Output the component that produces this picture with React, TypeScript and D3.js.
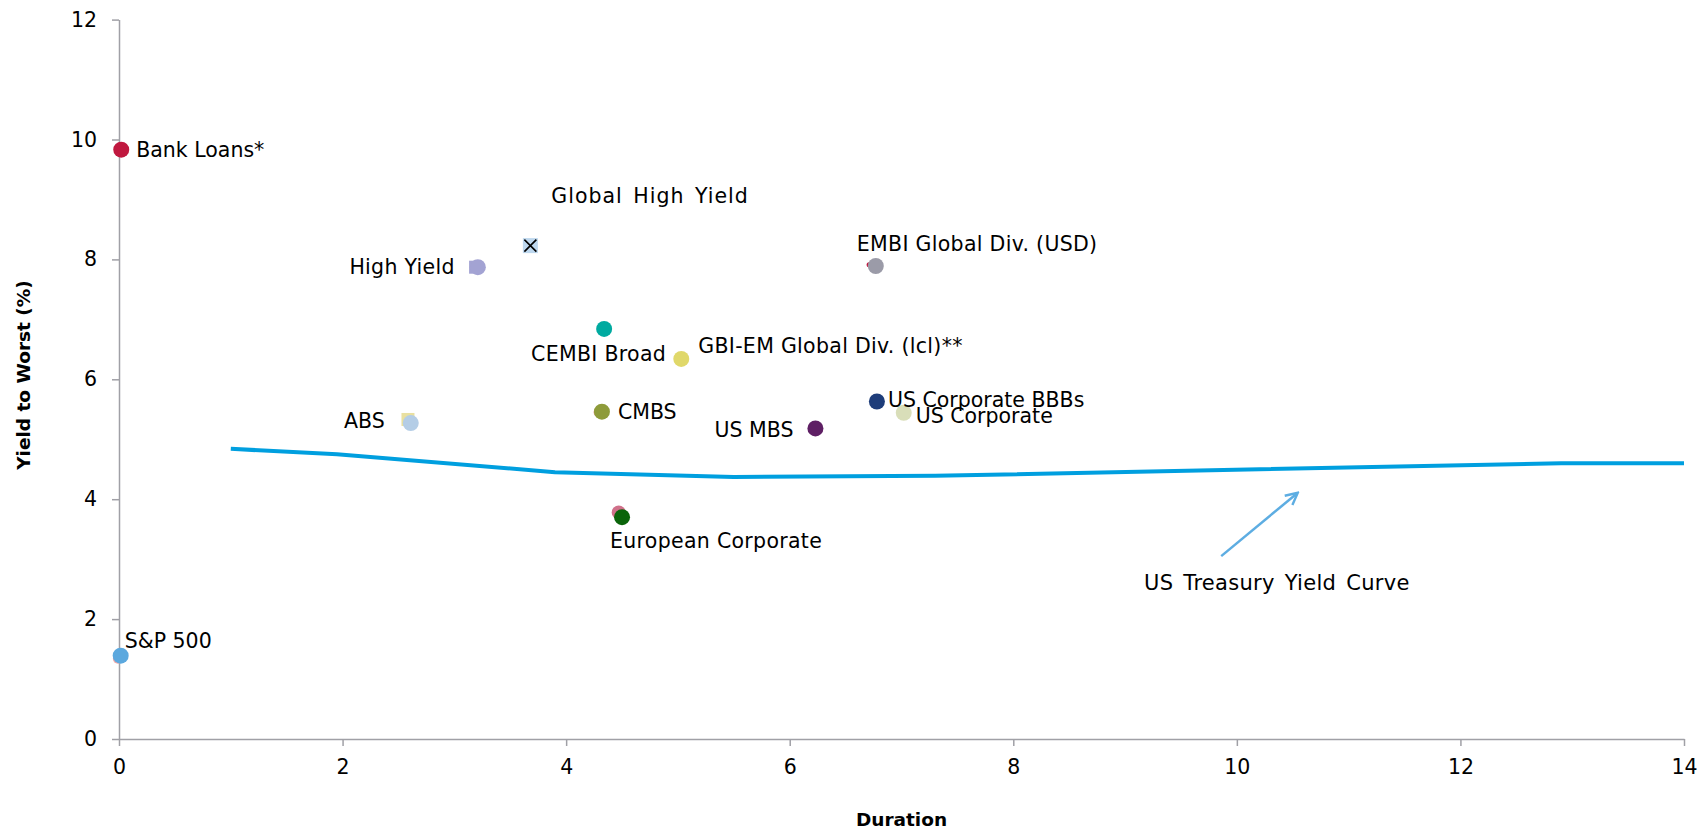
import * as d3 from 'd3';
import React, { useRef, useEffect } from 'react';

// sectors: duration (yrs) vs yield to worst (%)
const names = ['Bank Loans*', 'Global High Yield', 'High Yield', 'EMBI Global Div. (USD)', 'CEMBI Broad',
    'GBI-EM Global Div. (lcl)**', 'ABS', 'CMBS', 'US MBS', 'US Corporate BBBs', 'US Corporate',
    'European Corporate', 'S&P 500'];
const durations = [0.02, 3.68, 3.21, 6.77, 4.34, 5.03, 2.61, 4.32, 6.23, 6.78, 7.02, 4.50, 0.015];
const yields = [9.83, 8.23, 7.87, 7.89, 6.84, 6.34, 5.27, 5.46, 5.18, 5.63, 5.44, 3.70, 1.39];
const colors = ['#c0183f', '#bdd7ee', '#a3a3d3', '#9b9ba8', '#00aaa0', '#e0d86a', '#b4cde6', '#8e9b3a',
    '#5e1f64', '#1e3d7a', '#d9deb9', '#0a640a', '#5ba8de'];

// faint markers peeking out behind some of the points
const ghostDurations = [3.19, 2.585, 4.47, 4.29, -0.01, 6.71];
const ghostYields = [7.87, 5.33, 3.78, 5.45, 1.34, 7.91];
const ghostColors = ['#a3a3d3', '#e9e0a0', '#d0708a', '#f0a8a8', '#f0a8a8', '#c0183f'];
const ghostShapes = ['square', 'square', 'circle', 'small', 'small', 'dot'];

// US treasury curve
const tsyDurations = [1.0, 1.95, 3.9, 5.5, 7.3, 12.9, 14.0];
const tsyYields = [4.84, 4.75, 4.45, 4.37, 4.39, 4.60, 4.60];

const xTicks = [0, 2, 4, 6, 8, 10, 12, 14];
const yTicks = [0, 2, 4, 6, 8, 10, 12];

const FONT = '"DejaVu Sans", Verdana, sans-serif';

function ScatterChart({ width, height }) {
    const ref = useRef(null);

    useEffect(() => {
        let svg = d3.select(ref.current);
        svg.selectAll('*').remove();
        draw();
    }, []);

    const draw = () => {
        let margin = { top: 19.6, right: 22, bottom: 91, left: 119 };
        let w = width - margin.left - margin.right, h = height - margin.top - margin.bottom;

        let x = d3.scaleLinear().domain([0, 14]).range([0, w]);
        let y = d3.scaleLinear().domain([0, 12]).range([h, 0]);

        let svg = d3.select(ref.current)
            .attr('width', width)
            .attr('height', height);

        let defs = svg.append('defs');
        defs.append('marker')
            .attr('id', 'arrowhead')
            .attr('viewBox', '0 0 10 10')
            .attr('refX', 8.5)
            .attr('refY', 5)
            .attr('markerWidth', 6)
            .attr('markerHeight', 6)
            .attr('markerUnits', 'strokeWidth')
            .attr('orient', 'auto')
            .append('path')
            .attr('d', 'M1,1 L9,5 L1,9')
            .attr('fill', 'none')
            .attr('stroke', '#5dade2')
            .attr('stroke-width', 1.6);

        let g = svg.append('g')
            .attr('transform', 'translate(' + margin.left + ',' + margin.top + ')');

        // axes
        let yAxis = g.append('g')
            .call(d3.axisLeft(y).tickValues(yTicks).tickSize(7).tickSizeOuter(0).tickPadding(15));
        let xAxis = g.append('g')
            .attr('transform', 'translate(0,' + h + ')')
            .call(d3.axisBottom(x).tickValues(xTicks).tickSize(7).tickSizeOuter(0).tickPadding(13));
        [xAxis, yAxis].forEach(ax => {
            ax.selectAll('path, line').attr('stroke', '#a0a0a6').attr('stroke-width', 1.5);
            ax.selectAll('text')
                .attr('font-family', FONT)
                .attr('font-size', '20.5px')
                .attr('fill', '#000');
        });

        // axis titles
        g.append('text')
            .attr('transform', 'translate(' + (24 - margin.left) + ',' + (375 - margin.top) + ') rotate(-90)')
            .attr('text-anchor', 'middle')
            .attr('dy', '0.35em')
            .attr('font-family', FONT)
            .attr('font-weight', 'bold')
            .attr('font-size', '18.5px')
            .text('Yield to Worst (%)');
        g.append('text')
            .attr('x', w / 2)
            .attr('y', h + 87)
            .attr('text-anchor', 'middle')
            .attr('font-family', FONT)
            .attr('font-weight', 'bold')
            .attr('font-size', '18.5px')
            .text('Duration');

        // treasury curve
        let line = d3.line()
            .x((d, i) => x(tsyDurations[i]))
            .y((d, i) => y(tsyYields[i]));
        g.append('path')
            .datum(tsyDurations)
            .attr('d', line)
            .attr('fill', 'none')
            .attr('stroke', '#009fdf')
            .attr('stroke-width', 4)
            .attr('stroke-linejoin', 'round');

        // arrow + label for the curve
        g.append('line')
            .attr('x1', x(9.86))
            .attr('y1', y(3.05))
            .attr('x2', x(10.54))
            .attr('y2', y(4.10))
            .attr('stroke', '#5dade2')
            .attr('stroke-width', 2.5)
            .attr('marker-end', 'url(#arrowhead)');
        g.append('text')
            .attr('x', x(9.17))
            .attr('y', y(2.6))
            .attr('dy', '0.35em')
            .attr('font-family', FONT)
            .attr('font-size', '21px')
            .attr('letter-spacing', '0.3px')
            .attr('word-spacing', '3px')
            .attr('fill', '#000')
            .text('US Treasury Yield Curve');

        // ghost markers
        ghostDurations.forEach((d, i) => {
            let cx = x(d), cy = y(ghostYields[i]);
            if (ghostShapes[i] === 'square') {
                g.append('rect')
                    .attr('x', cx - 6.5).attr('y', cy - 6.5)
                    .attr('width', 13).attr('height', 13)
                    .attr('fill', ghostColors[i]);
            } else {
                let r = ghostShapes[i] === 'dot' ? 2.5 : ghostShapes[i] === 'small' ? 5 : 7;
                g.append('circle')
                    .attr('cx', cx).attr('cy', cy)
                    .attr('r', r)
                    .attr('fill', ghostColors[i]);
            }
        });

        // sector points
        names.forEach((n, i) => {
            let cx = x(durations[i]), cy = y(yields[i]);
            if (n === 'Global High Yield') {
                g.append('rect')
                    .attr('x', cx - 7.5).attr('y', cy - 7.5)
                    .attr('width', 15).attr('height', 15)
                    .attr('fill', colors[i]);
                g.append('path')
                    .attr('transform', 'translate(' + cx + ',' + cy + ')')
                    .attr('d', d3.symbol().type(d3.symbolX).size(96)())
                    .attr('fill', 'none')
                    .attr('stroke', '#000')
                    .attr('stroke-width', 1.6);
            } else {
                g.append('circle')
                    .attr('cx', cx).attr('cy', cy)
                    .attr('r', 8)
                    .attr('fill', colors[i]);
            }
        });

        // labels: [dx, dy, anchor, letter-spacing, word-spacing] in px from the point
        const labelPos = [
            [15, 0, 'start', 0, 0], [21, -50, 'start', 1, 3], [-23, 0, 'end', 0.3, 0], [-19, -22, 'start', 0.3, 0],
            [62, 25, 'end', 0.3, 0], [17, -13, 'start', 0.3, 0], [-26, -2, 'end', 0, 0], [16, 0, 'start', 0, 0],
            [-22, 1, 'end', 0, 0], [11, -2, 'start', 0, 0], [12, 3, 'start', 0, 0], [-12, 24, 'start', 0.3, 0],
            [4, -15, 'start', 0, 0]
        ];
        names.forEach((n, i) => {
            g.append('text')
                .attr('x', x(durations[i]) + labelPos[i][0])
                .attr('y', y(yields[i]) + labelPos[i][1])
                .attr('dy', '0.35em')
                .attr('text-anchor', labelPos[i][2])
                .attr('font-family', FONT)
                .attr('font-size', '20.5px')
                .attr('letter-spacing', labelPos[i][3] + 'px')
                .attr('word-spacing', labelPos[i][4] + 'px')
                .attr('fill', '#000')
                .text(n);
        });
    }

    return (
        <svg ref={ref} style={{ position: 'absolute', left: 0, top: 0, background: '#fff' }}></svg>
    );
}

export default function App() {
    return <ScatterChart width={1706} height={830} />;
}
